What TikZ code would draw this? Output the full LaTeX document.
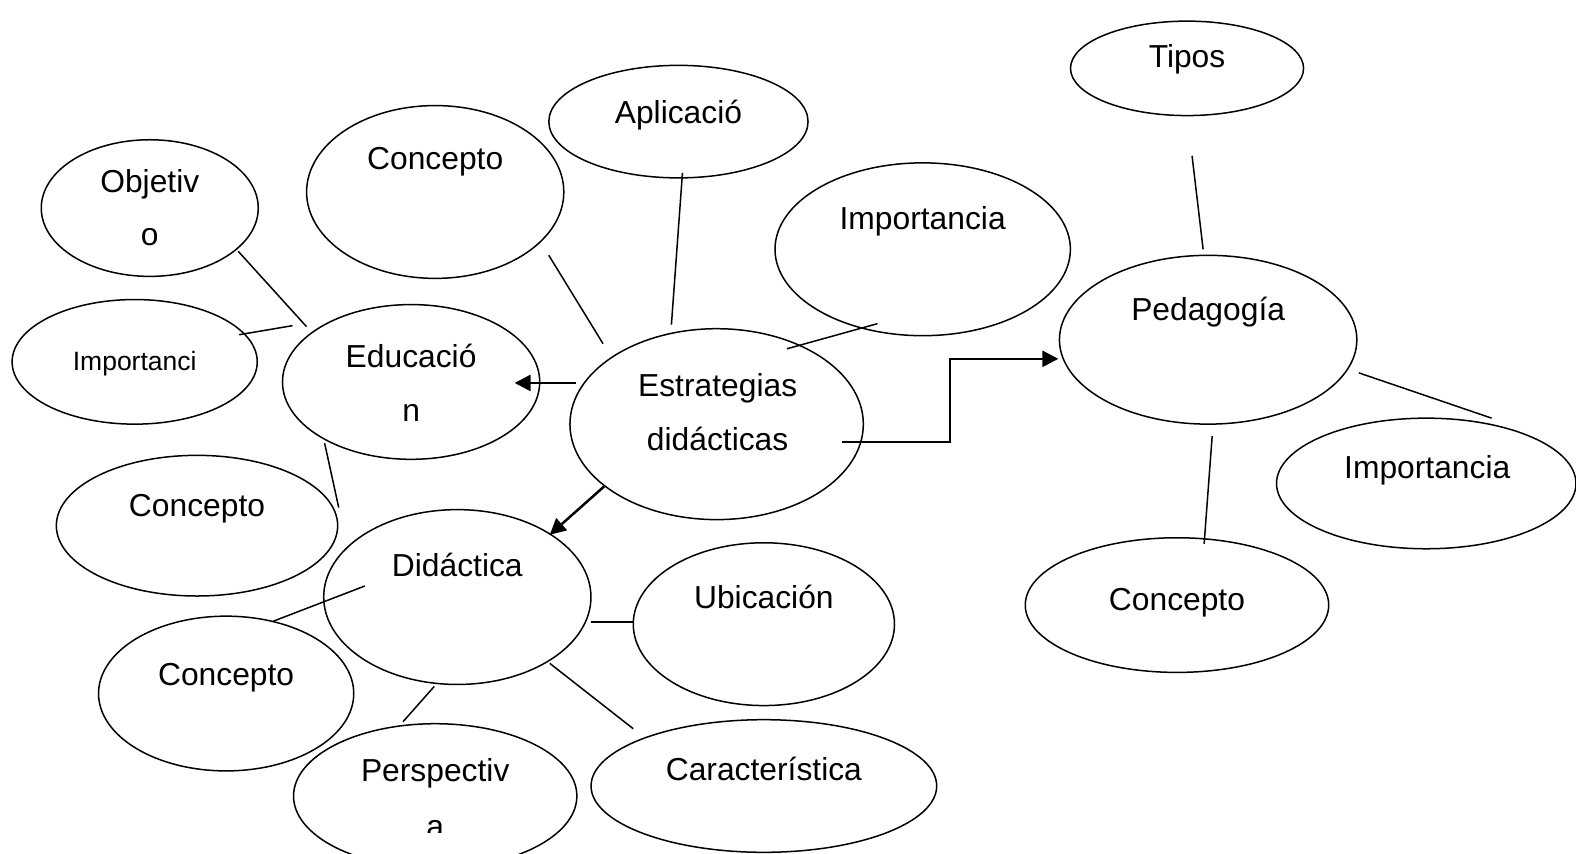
\documentclass[tikz,border=0pt]{standalone}
\usepackage{fontspec}
\setmainfont{Liberation Sans}
\usetikzlibrary{shapes.geometric,arrows.meta}
\begin{document}
\begin{tikzpicture}[x=0.02cm,y=-0.02cm,
  ov/.style 2 args={draw,ellipse,line width=0.85pt,inner sep=0pt,minimum width=#1*0.04cm,minimum height=#2*0.04cm},
  lbl/.style={font=\fontsize{18}{22}\selectfont,anchor=base,inner sep=0pt},
  slbl/.style={font=\fontsize{15}{18}\selectfont,anchor=base,inner sep=0pt},
  link/.style={line width=0.85pt},
  arr/.style={line width=1.4pt,-{Triangle[length=9pt,width=9pt]}}]
\useasboundingbox (0,0) rectangle (1568,849);
% ellipses
\node[ov={116}{47}] (tipos) at (1181,68) {};
\node[ov={129}{56}] (aplic) at (675,121) {};
\node[ov={128}{86}] (concT) at (433,191) {};
\node[ov={108}{68}] (objet) at (149,207) {};
\node[ov={122}{62}] (impL) at (134,360) {};
\node[ov={128}{77}] (educ) at (409,380) {};
\node[ov={147}{86}] (impC) at (918,248) {};
\node[ov={146}{95}] (estr) at (713,422) {};
\node[ov={148}{84}] (ped) at (1202,338) {};
\node[ov={149}{65}] (impR) at (1419,481) {};
\node[ov={151}{67}] (concR) at (1171,602) {};
\node[ov={140}{70}] (concL) at (196,523) {};
\node[ov={133}{87}] (did) at (455,594) {};
\node[ov={130}{81}] (ubic) at (760,621) {};
\node[ov={127}{77}] (concB) at (225,690) {};
\node[ov={141}{72}] (persp) at (433,792) {};
\node[ov={172}{66}] (carac) at (760,782) {};
% texts
\node[lbl] (tTipos) at (1181,67) {Tipos};
\node[lbl] (tAplic) at (675,123) {Aplicació};
\node[lbl] (tConcT) at (433,169) {Concepto};
\node[lbl] (tObj1) at (149,192) {Objetiv};
\node[lbl] (tObj2) at (149,244) {o};
\node[slbl] (tImpL) at (134,369) {Importanci};
\node[lbl] (tEdu1) at (409,366) {Educació};
\node[lbl] (tEdu2) at (409,419) {n};
\node[lbl] (tImpC) at (918,228) {Importancia};
\node[lbl] (tEst1) at (714,394) {Estrategias};
\node[lbl] (tEst2) at (714,448) {didácticas};
\node[lbl] (tPed) at (1202,319) {Pedagogía};
\node[lbl] (tImpR) at (1420,476) {Importancia};
\node[lbl] (tConcR) at (1171,607) {Concepto};
\node[lbl] (tConcL) at (196,514) {Concepto};
\node[lbl] (tDid) at (455,574) {Didáctica};
\node[lbl] (tUbic) at (760,605) {Ubicación};
\node[lbl] (tConcB) at (225,682) {Concepto};
\node[lbl] (tCarac) at (760,777) {Característica};
\begin{scope}
\clip (290,700) rectangle (580,828);
\node[lbl] (tPer1) at (433,778) {Perspectiv};
\node[lbl] (tPer2) at (433,833) {a};
\end{scope}
% connector end points
\coordinate (a1) at (1186,155); \coordinate (a2) at (1197,248);
\coordinate (b1) at (679,172); \coordinate (b2) at (668,323);
\coordinate (c1) at (546,254); \coordinate (c2) at (600,342);
\coordinate (d1) at (873,322); \coordinate (d2) at (783,347);
\coordinate (e1) at (237,250); \coordinate (e2) at (305,325);
\coordinate (f1) at (238,333); \coordinate (f2) at (291,324);
\coordinate (g1) at (323,441); \coordinate (g2) at (337,505);
\coordinate (h1) at (1352,371); \coordinate (h2) at (1484,416);
\coordinate (i1) at (1206,434); \coordinate (i2) at (1198,541);
\coordinate (j1) at (363,583); \coordinate (j2) at (272,618);
\coordinate (k1) at (588,619); \coordinate (k2) at (630,619);
\coordinate (l1) at (432,683); \coordinate (l2) at (401,718);
\coordinate (m1) at (547,660); \coordinate (m2) at (630,725);
\coordinate (n1) at (573,381); \coordinate (n2) at (512,381);
\coordinate (o1) at (601,484); \coordinate (o2) at (547,532);
\coordinate (p1) at (838,440); \coordinate (p2) at (1053,357);
% plain links
\draw[link] (a1) -- (a2);
\draw[link] (b1) -- (b2);
\draw[link] (c1) -- (c2);
\draw[link] (d1) -- (d2);
\draw[link] (e1) -- (e2);
\draw[link] (f1) -- (f2);
\draw[link] (g1) -- (g2);
\draw[link] (h1) -- (h2);
\draw[link] (i1) -- (i2);
\draw[link] (j1) -- (j2);
\draw[link] (k1) -- (k2);
\draw[link] (l1) -- (l2);
\draw[link] (m1) -- (m2);
% arrows
\draw[arr] (n1) -- (n2);
\draw[arr] (o1) -- (o2);
\draw[arr] (p1) -- (945,440) -- (945,357) -- (p2);
\end{tikzpicture}
\end{document}
